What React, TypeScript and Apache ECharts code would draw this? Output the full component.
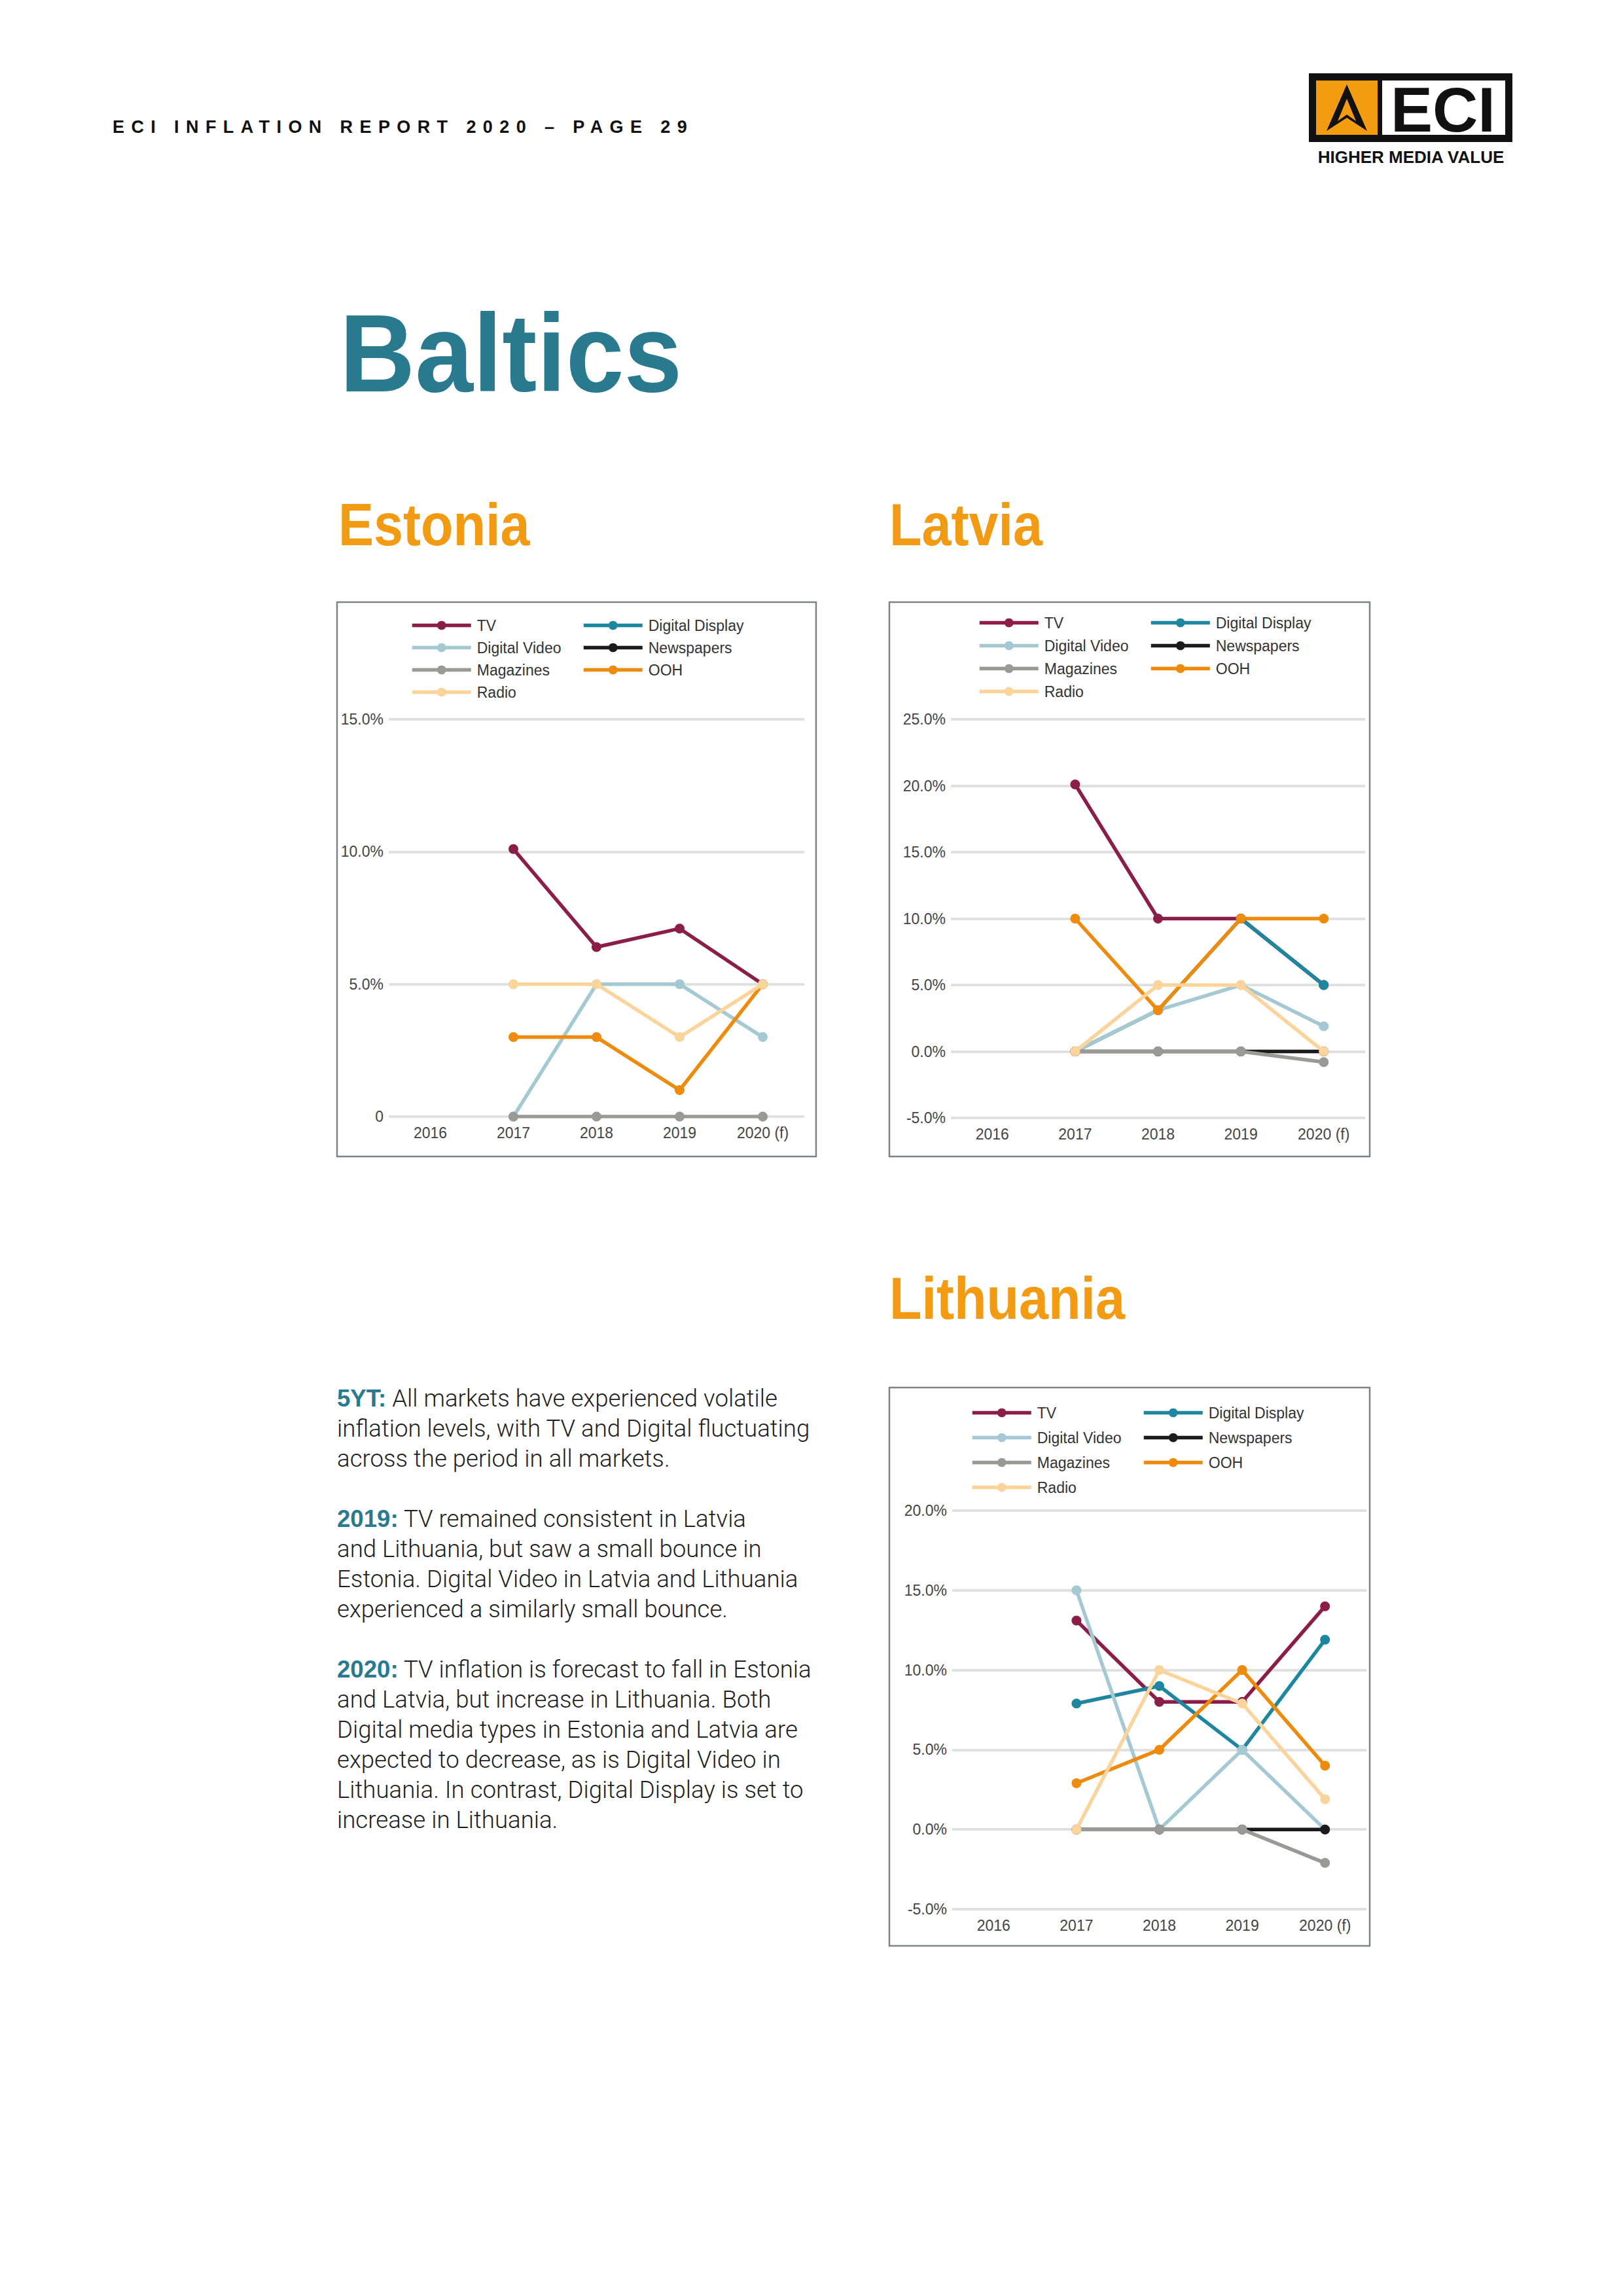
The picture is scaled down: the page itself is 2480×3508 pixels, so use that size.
import React, { useEffect, useRef } from 'react';
import * as echarts from 'echarts';

// ---------- DATA ----------
const years = ['2016', '2017', '2018', '2019', '2020 (f)'];
const legendColA = ['TV', 'Digital Video', 'Magazines', 'Radio'];
const legendColB = ['Digital Display', 'Newspapers', 'OOH'];

// Estonia (% inflation)
const estTV = [null, 10.1, 6.4, 7.1, 5.0];
const estDigitalVideo = [null, 0, 5.0, 5.0, 3.0];
const estMagazines = [null, 0, 0, 0, 0];
const estRadio = [null, 5.0, 5.0, 3.0, 5.0];
const estDigitalDisplay = [null, null, null, null, null];
const estNewspapers = [null, null, null, null, null];
const estOOH = [null, 3.0, 3.0, 1.0, 5.0];

// Latvia
const latTV = [null, 20.1, 10.0, 10.0, 5.0];
const latDigitalVideo = [null, 0, 3.1, 5.0, 1.9];
const latMagazines = [null, 0, 0, 0, -0.8];
const latRadio = [null, 0, 5.0, 5.0, 0];
const latDigitalDisplay = [null, 0, 3.1, 10.0, 5.0];
const latNewspapers = [null, 0, 0, 0, 0];
const latOOH = [null, 10.0, 3.1, 10.0, 10.0];

// Lithuania
const litTV = [null, 13.1, 8.0, 8.0, 14.0];
const litDigitalVideo = [null, 15.0, 0, 5.0, 0];
const litMagazines = [null, 0, 0, 0, -2.1];
const litRadio = [null, 0, 10.0, 7.9, 1.9];
const litDigitalDisplay = [null, 7.9, 9.0, 5.0, 11.9];
const litNewspapers = [null, 0, 0, 0, 0];
const litOOH = [null, 2.9, 5.0, 10.0, 4.0];

// y-axis ranges (min, max) per market
const estRange = [0, 15];
const latRange = [-5, 25];
const litRange = [-5, 20];

// ---------- STYLE ----------
const FONT = '"Liberation Sans", Arial, sans-serif';
const COLORS: Record<string, string> = {
  'TV': '#8b1d49',
  'Digital Video': '#a4c9d2',
  'Magazines': '#9b9994',
  'Radio': '#fbd49c',
  'Digital Display': '#1f86a0',
  'Newspapers': '#1b1b1b',
  'OOH': '#ee8a0c',
};
const DRAW_ORDER = ['TV', 'Digital Display', 'Digital Video', 'Newspapers', 'Magazines', 'OOH', 'Radio'];

type Market = {
  data: Record<string, (number | null)[]>;
  range: number[];
  zeroPlain: boolean;
  grid: { left: number; top: number; width: number; height: number };
  legendA: { left: number; top: number };
  legendB: { left: number; top: number };
  legendGap: number;
  box: { x: number; y: number; w: number; h: number };
};

const markets: Market[] = [
  {
    data: {
      'TV': estTV, 'Digital Video': estDigitalVideo, 'Magazines': estMagazines, 'Radio': estRadio,
      'Digital Display': estDigitalDisplay, 'Newspapers': estNewspapers, 'OOH': estOOH,
    },
    range: estRange,
    zeroPlain: true,
    grid: { left: 594, top: 1099, width: 635, height: 607 },
    legendA: { left: 622, top: 939 },
    legendB: { left: 884, top: 939 },
    legendGap: 11,
    box: { x: 515, y: 920, w: 732, h: 847 },
  },
  {
    data: {
      'TV': latTV, 'Digital Video': latDigitalVideo, 'Magazines': latMagazines, 'Radio': latRadio,
      'Digital Display': latDigitalDisplay, 'Newspapers': latNewspapers, 'OOH': latOOH,
    },
    range: latRange,
    zeroPlain: false,
    grid: { left: 1453, top: 1099, width: 633, height: 609 },
    legendA: { left: 1489, top: 935 },
    legendB: { left: 1751, top: 935 },
    legendGap: 12,
    box: { x: 1359, y: 920, w: 734, h: 847 },
  },
  {
    data: {
      'TV': litTV, 'Digital Video': litDigitalVideo, 'Magazines': litMagazines, 'Radio': litRadio,
      'Digital Display': litDigitalDisplay, 'Newspapers': litNewspapers, 'OOH': litOOH,
    },
    range: litRange,
    zeroPlain: false,
    grid: { left: 1455, top: 2308, width: 633, height: 609 },
    legendA: { left: 1478, top: 2142 },
    legendB: { left: 1740, top: 2142 },
    legendGap: 15,
    box: { x: 1359, y: 2120, w: 734, h: 853 },
  },
];

const paragraphs = [
  ['{b|5YT:} All markets have experienced volatile', 'inflation levels, with TV and Digital fluctuating', 'across the period in all markets.'],
  ['{b|2019:} TV remained consistent in Latvia', 'and Lithuania, but saw a small bounce in', 'Estonia. Digital Video in Latvia and Lithuania', 'experienced a similarly small bounce.'],
  ['{b|2020:} TV inflation is forecast to fall in Estonia', 'and Latvia, but increase in Lithuania. Both', 'Digital media types in Estonia and Latvia are', 'expected to decrease, as is Digital Video in', 'Lithuania. In contrast, Digital Display is set to', 'increase in Lithuania.'],
];

function buildOption() {
  const grids: any[] = [];
  const xAxes: any[] = [];
  const yAxes: any[] = [];
  const series: any[] = [];
  const legends: any[] = [];
  const elements: any[] = [];

  markets.forEach((m, i) => {
    grids.push({ ...m.grid, containLabel: false });
    xAxes.push({
      type: 'category', gridIndex: i, data: years, boundaryGap: true,
      axisLine: { show: false, onZero: false }, axisTick: { show: false },
      axisLabel: { fontSize: 23, color: '#444', margin: 13, fontFamily: FONT },
      splitLine: { show: false },
    });
    yAxes.push({
      type: 'value', gridIndex: i, min: m.range[0], max: m.range[1], interval: 5,
      axisLine: { show: false }, axisTick: { show: false },
      splitLine: { show: true, lineStyle: { color: '#e0e0e0', width: 4 } },
      axisLabel: {
        fontSize: 23, color: '#444', margin: 8, fontFamily: FONT,
        formatter: (v: number) => (m.zeroPlain && v === 0 ? '0' : v.toFixed(1) + '%'),
      },
    });
    DRAW_ORDER.forEach((name, k) => {
      series.push({
        type: 'line', name, xAxisIndex: i, yAxisIndex: i,
        data: m.data[name], color: COLORS[name],
        lineStyle: { width: 5.5, color: COLORS[name] },
        itemStyle: { color: COLORS[name] },
        symbol: 'circle', symbolSize: 15, showSymbol: true,
        silent: true, emphasis: { disabled: true }, z: 2 + k * 0.01,
      });
    });
    const legendBase = {
      orient: 'vertical', itemWidth: 90, itemHeight: 17, itemGap: m.legendGap,
      selectedMode: false,
      lineStyle: { width: 5.5 },
      textStyle: { fontSize: 23, color: '#333', fontFamily: FONT, padding: [0, 0, 0, 4] },
    };
    legends.push({ ...legendBase, data: legendColA, left: m.legendA.left, top: m.legendA.top });
    legends.push({ ...legendBase, data: legendColB, left: m.legendB.left, top: m.legendB.top });
    elements.push({
      type: 'rect', shape: { x: m.box.x, y: m.box.y, width: m.box.w, height: m.box.h },
      style: { fill: 'none', stroke: '#7b828a', lineWidth: 2.5 }, silent: true,
    });
  });

  // Titles
  elements.push({
    type: 'text', x: 519, y: 540, scaleX: 0.95,
    style: { text: 'Baltics', fontSize: 168, fontWeight: 'bold', fontFamily: FONT, fill: '#2a7a8f', textVerticalAlign: 'middle' },
  });
  const heads = [
    { t: 'Estonia', x: 517, y: 801 },
    { t: 'Latvia', x: 1359, y: 801 },
    { t: 'Lithuania', x: 1359, y: 1983 },
  ];
  heads.forEach((h) => elements.push({
    type: 'text', x: h.x, y: h.y, scaleX: 0.9,
    style: { text: h.t, fontSize: 90, fontWeight: 'bold', fontFamily: FONT, fill: '#f29a12', textVerticalAlign: 'middle' },
  }));

  // Logo
  elements.push({ type: 'rect', shape: { x: 2000, y: 112, width: 311, height: 105 }, style: { fill: '#111' } });
  elements.push({ type: 'rect', shape: { x: 2011, y: 123, width: 94, height: 83 }, style: { fill: '#f39c12' } });
  elements.push({ type: 'rect', shape: { x: 2112, y: 123, width: 188, height: 83 }, style: { fill: '#fff' } });
  elements.push({
    type: 'polygon', shape: { points: [[2058, 129], [2027, 200], [2058, 180], [2089, 200]] },
    style: { fill: '#111' },
  });
  elements.push({
    type: 'polygon', shape: { points: [[2058, 151], [2044, 185], [2058, 175], [2072, 185]] },
    style: { fill: '#f39c12' },
  });
  elements.push({
    type: 'text', x: 2205, y: 167,
    style: { text: 'ECI', fontSize: 96, fontWeight: 'bold', fontFamily: FONT, fill: '#111', textAlign: 'center', textVerticalAlign: 'middle' },
  });
  elements.push({
    type: 'text', x: 2156, y: 240,
    style: { text: 'HIGHER MEDIA VALUE', fontSize: 26, fontWeight: 900, fontFamily: FONT, fill: '#111', textAlign: 'center', textVerticalAlign: 'middle' },
  });

  // Commentary
  const paraStarts = [2136, 2320, 2550];
  const pitch = 46;
  const textEls: any[] = [];
  paragraphs.forEach((lines, p) => {
    lines.forEach((line, l) => {
      textEls.push({
        type: 'text', x: 0, y: paraStarts[p] + l * pitch - 2100,
        style: {
          text: line, fontSize: 37, fontWeight: 300, fontFamily: 'Roboto, "Liberation Sans", sans-serif',
          fill: '#1e1e1e', textVerticalAlign: 'middle',
          rich: { b: { fontSize: 37, fontWeight: 'bold', fontFamily: FONT, fill: '#2a7a8f' } },
        },
      });
    });
  });
  elements.push({ type: 'group', x: 515, y: 2100, scaleX: 0.99, children: textEls });

  return {
    animation: false,
    backgroundColor: '#ffffff',
    grid: grids,
    xAxis: xAxes,
    yAxis: yAxes,
    legend: legends,
    series,
    graphic: { elements },
  };
}

export default function App() {
  const ref = useRef<HTMLDivElement>(null);
  useEffect(() => {
    const chart = echarts.init(ref.current!, null, { renderer: 'svg', width: 2480, height: 3508 });
    chart.setOption(buildOption() as any);
    return () => chart.dispose();
  }, []);
  return (
    <div style={{ position: 'absolute', left: 0, top: 0, width: 2480, height: 3508, background: '#fff' }}>
      <div ref={ref} style={{ position: 'absolute', left: 0, top: 0, width: 2480, height: 3508 }} />
      <div
        style={{
          position: 'absolute', left: 172, top: 179, fontFamily: FONT, fontWeight: 'bold',
          fontSize: 27, letterSpacing: '10.4px', color: '#111', whiteSpace: 'nowrap', lineHeight: '30px',
        }}
      >
        ECI INFLATION REPORT 2020 – PAGE 29
      </div>
    </div>
  );
}
